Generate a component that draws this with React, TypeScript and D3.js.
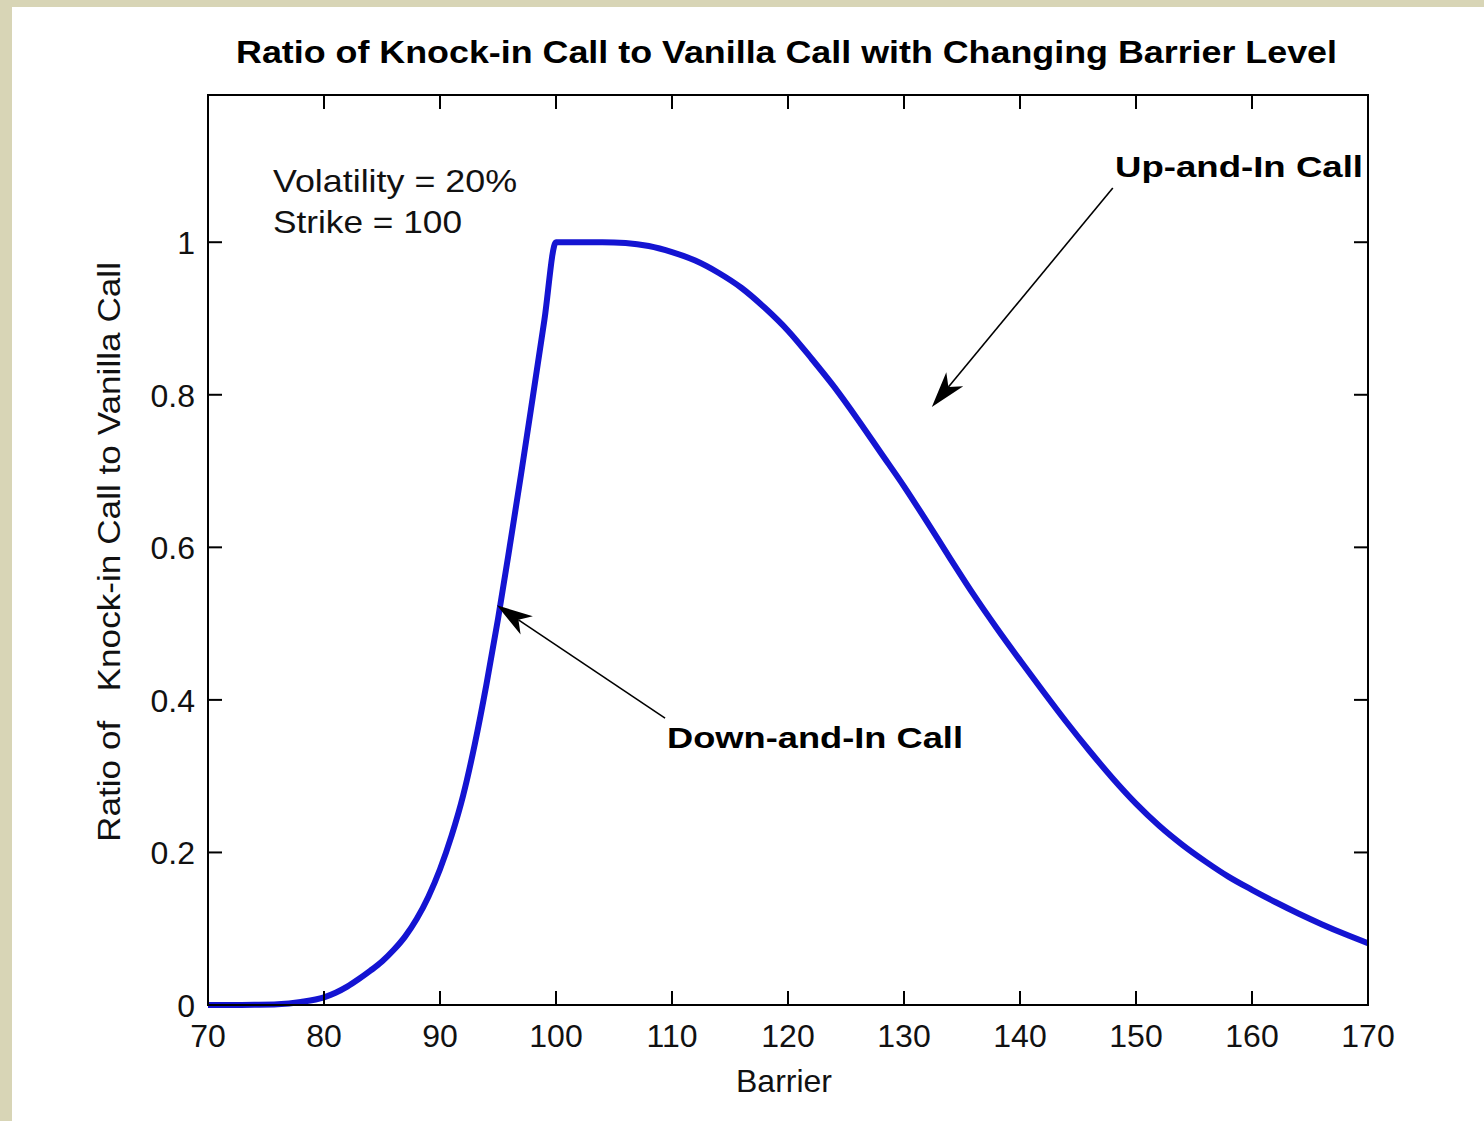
import React from "react";
import * as d3 from "d3";

const barrier: number[] = [
  70, 72, 74, 76, 78, 80, 81, 82, 83, 84, 85, 86, 87, 88, 89, 90, 91, 92, 93, 94, 95, 96, 97, 98, 99, 100,
  102, 104, 106, 108, 110, 112, 114, 116, 118, 120, 122, 124, 126, 128, 130, 132, 134, 136,
  138, 140, 142, 144, 146, 148, 150, 152, 154, 156, 158, 160, 162, 164, 166, 168, 170,
];
const ratio: number[] = [
  0, 0, 0.0003, 0.001, 0.004, 0.01, 0.016, 0.024, 0.034, 0.045, 0.057, 0.072, 0.09, 0.113, 0.142,
  0.178, 0.222, 0.275, 0.342, 0.42, 0.506, 0.6, 0.697, 0.797, 0.898, 1.0,
  1.0, 1.0, 0.999, 0.995, 0.987, 0.976, 0.96, 0.94, 0.914, 0.884, 0.848, 0.81, 0.768, 0.724,
  0.68, 0.633, 0.585, 0.538, 0.494, 0.452, 0.411, 0.371, 0.333, 0.297, 0.264, 0.235, 0.21,
  0.188, 0.168, 0.151, 0.135, 0.12, 0.106, 0.093, 0.081,
];
const xTicks: number[] = [70, 80, 90, 100, 110, 120, 130, 140, 150, 160, 170];
const yTicks: number[] = [0, 0.2, 0.4, 0.6, 0.8, 1];
const yTickLabels: string[] = ["0", "0.2", "0.4", "0.6", "0.8", "1"];

const title = "Ratio of Knock-in Call to Vanilla Call with Changing Barrier Level";
const xLabel = "Barrier";
const yLabel = "Ratio of   Knock-in Call to Vanilla Call";
const infoLines: string[] = ["Volatility = 20%", "Strike = 100"];
const upLabel = "Up-and-In Call";
const downLabel = "Down-and-In Call";
// annotation anchors in data units: [tailX, tailY, tipX, tipY]
const upArrow: number[] = [148.0, 1.071, 132.4, 0.784];
const downArrow: number[] = [109.4, 0.376, 94.9, 0.524];

const W = 1484;
const H = 1121;
const left = 208;
const right = 1368;
const top = 95;
const bottom = 1005;
const FONT = "'Liberation Sans', Arial, sans-serif";

function Arrow({ x1, y1, x2, y2 }: { x1: number; y1: number; x2: number; y2: number }) {
  const ang = Math.atan2(y2 - y1, x2 - x1);
  const L = 36;
  const half = 11;
  const notch = 26;
  const ca = Math.cos(ang);
  const sa = Math.sin(ang);
  const bx = x2 - L * ca;
  const by = y2 - L * sa;
  const p1 = [bx - half * sa, by + half * ca];
  const p2 = [bx + half * sa, by - half * ca];
  const n = [x2 - notch * ca, y2 - notch * sa];
  return (
    <g>
      <line x1={x1} y1={y1} x2={n[0]} y2={n[1]} stroke="#000" strokeWidth={1.6} />
      <path
        d={`M${x2},${y2}L${p1[0]},${p1[1]}L${n[0]},${n[1]}L${p2[0]},${p2[1]}Z`}
        fill="#000"
      />
    </g>
  );
}

export default function App() {
  const x = d3.scaleLinear().domain([70, 170]).range([left, right]);
  const y = d3.scaleLinear().domain([0, 1.193]).range([bottom, top]);
  const line = d3
    .line<number>()
    .x((_, i) => x(barrier[i]))
    .y((d) => y(d))
    .curve(d3.curveMonotoneX);
  const tl = 14;

  return (
    <div style={{ position: "absolute", left: 0, top: 0 }}>
      <svg width={W} height={H} style={{ display: "block" }}>
        <rect x={0} y={0} width={W} height={H} fill="#d8d5b6" />
        <rect x={12} y={7} width={W - 12} height={H - 7} fill="#ffffff" />

        <text
          x={236}
          y={63}
          fontFamily={FONT}
          fontWeight="bold"
          fontSize={32}
          textLength={1101}
          lengthAdjust="spacingAndGlyphs"
          fill="#000"
        >
          {title}
        </text>

        <path d={line(ratio) || ""} fill="none" stroke="#1414d2" strokeWidth={6} strokeLinejoin="round" />

        {xTicks.map((t) => (
          <g key={"xt" + t}>
            <line x1={x(t)} x2={x(t)} y1={bottom} y2={bottom - tl} stroke="#000" strokeWidth={2} />
            <line x1={x(t)} x2={x(t)} y1={top} y2={top + tl} stroke="#000" strokeWidth={2} />
            <text
              x={x(t)}
              y={1047}
              textAnchor="middle"
              fontFamily={FONT}
              fontSize={32}
              fill="#111"
            >
              {t}
            </text>
          </g>
        ))}
        {yTicks.map((t, i) => (
          <g key={"yt" + t}>
            <line x1={left} x2={left + tl} y1={y(t)} y2={y(t)} stroke="#000" strokeWidth={2} />
            <line x1={right} x2={right - tl} y1={y(t)} y2={y(t)} stroke="#000" strokeWidth={2} />
            <text
              x={195}
              y={y(t) + 12}
              textAnchor="end"
              fontFamily={FONT}
              fontSize={32}
              fill="#111"
            >
              {yTickLabels[i]}
            </text>
          </g>
        ))}

        <rect
          x={left}
          y={top}
          width={right - left}
          height={bottom - top}
          fill="none"
          stroke="#000"
          strokeWidth={2}
        />

        <text x={784} y={1092} textAnchor="middle" fontFamily={FONT} fontSize={32} fill="#111">
          {xLabel}
        </text>
        <text
          transform={`translate(120,842) rotate(-90)`}
          fontFamily={FONT}
          fontSize={32}
          textLength={580}
          lengthAdjust="spacingAndGlyphs"
          fill="#111"
          style={{ whiteSpace: "pre" }}
        >
          {yLabel}
        </text>

        <text x={273} y={192} fontFamily={FONT} fontSize={32} textLength={244} lengthAdjust="spacingAndGlyphs" fill="#111">
          {infoLines[0]}
        </text>
        <text x={273} y={233} fontFamily={FONT} fontSize={32} textLength={189} lengthAdjust="spacingAndGlyphs" fill="#111">
          {infoLines[1]}
        </text>

        <text x={1115} y={177} fontFamily={FONT} fontWeight="bold" fontSize={30} textLength={248} lengthAdjust="spacingAndGlyphs" fill="#000">
          {upLabel}
        </text>
        <text x={667} y={748} fontFamily={FONT} fontWeight="bold" fontSize={30} textLength={296} lengthAdjust="spacingAndGlyphs" fill="#000">
          {downLabel}
        </text>

        <Arrow x1={x(upArrow[0])} y1={y(upArrow[1])} x2={x(upArrow[2])} y2={y(upArrow[3])} />
        <Arrow x1={x(downArrow[0])} y1={y(downArrow[1])} x2={x(downArrow[2])} y2={y(downArrow[3])} />
      </svg>
    </div>
  );
}
